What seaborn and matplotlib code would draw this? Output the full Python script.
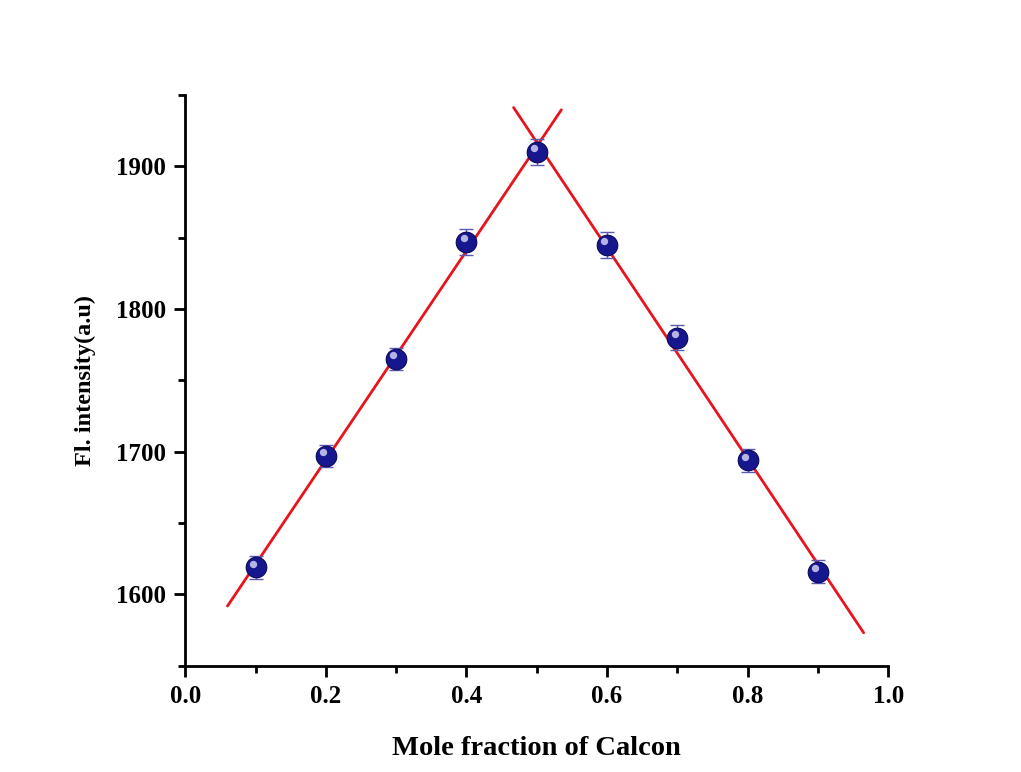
import numpy as np
import pandas as pd
import matplotlib
matplotlib.use("Agg")
import matplotlib.pyplot as plt
import seaborn as sns
from matplotlib.ticker import MultipleLocator

# Data
mole_fraction = [0.1, 0.2, 0.3, 0.4, 0.5, 0.6, 0.7, 0.8, 0.9]
intensity = [1619, 1697, 1765, 1847, 1910, 1845, 1780, 1694, 1616]
error = [8, 8, 8, 9, 9, 9, 9, 8, 8]

left_fit_idx = [0, 1, 2, 3, 4]
right_fit_idx = [4, 5, 6, 7, 8]
left_line_x = [0.06, 0.535]
right_line_x = [0.467, 0.965]

sns.set_theme(style="ticks")
plt.rcParams['font.family'] = ['Liberation Serif', 'DejaVu Serif']
plt.rcParams['font.weight'] = 'bold'
plt.rcParams['text.color'] = 'black'
plt.rcParams['axes.labelcolor'] = 'black'

fig = plt.figure(figsize=(10.21, 7.72), dpi=100)
ax = fig.add_axes([0.1815, 0.1375, 0.6885, 0.7395])

df = pd.DataFrame({"x": mole_fraction, "y": intensity})

def fit_line(idx, xs):
    xv = np.array(mole_fraction)[idx]
    yv = np.array(intensity)[idx]
    m, b = np.polyfit(xv, yv, 1)
    xs = np.array(xs)
    return pd.DataFrame({"x": xs, "y": m * xs + b})

lf = fit_line(left_fit_idx, left_line_x)
rf = fit_line(right_fit_idx, right_line_x)
sns.lineplot(data=lf, x="x", y="y", ax=ax, color="#e8141c", lw=2.0, zorder=2)
sns.lineplot(data=rf, x="x", y="y", ax=ax, color="#e8141c", lw=2.0, zorder=2)

ax.errorbar(mole_fraction, intensity, yerr=error, fmt="none", ecolor="#5a5ab4",
            elinewidth=1.0, capsize=5, capthick=1.0, zorder=3)
sns.scatterplot(data=df, x="x", y="y", ax=ax, s=220, color="#16168e",
                edgecolor="#0a0a5a", linewidth=0.8, zorder=4)
ax.scatter(np.array(mole_fraction) - 0.004, np.array(intensity) + 2.5, s=28,
           color="#d0d0f4", alpha=0.85, linewidths=0, zorder=5)

ax.set_xlim(0.0, 1.0)
ax.set_ylim(1550, 1950)
ax.xaxis.set_minor_locator(MultipleLocator(0.1))
ax.yaxis.set_minor_locator(MultipleLocator(50))
ax.set_xticks([0.0, 0.2, 0.4, 0.6, 0.8, 1.0])
ax.set_xticklabels(["0.0", "0.2", "0.4", "0.6", "0.8", "1.0"])
ax.set_yticks([1600, 1700, 1800, 1900])

sns.despine(ax=ax)
for s in ["left", "bottom"]:
    ax.spines[s].set_linewidth(2.0)
    ax.spines[s].set_color("black")
ax.tick_params(axis="both", which="major", direction="out", length=8, width=2,
               labelsize=18, colors="black", labelcolor="black", pad=6)
ax.tick_params(axis="both", which="minor", direction="out", length=5, width=2,
               colors="black")
for lab in ax.get_xticklabels() + ax.get_yticklabels():
    lab.set_fontweight("bold")

ax.set_xlabel("Mole fraction of Calcon", fontsize=20.5, fontweight="bold",
              labelpad=20, color="black")
ax.set_ylabel("Fl. intensity(a.u)", fontsize=17.5, fontweight="bold",
              labelpad=14, color="black")

fig.savefig("out.png", dpi=100, facecolor="white")
